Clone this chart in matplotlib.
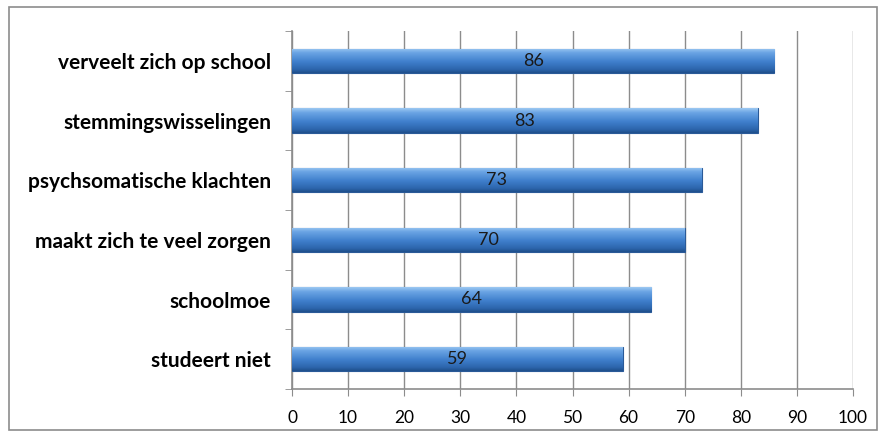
import numpy as np
import matplotlib.pyplot as plt
from matplotlib.patches import Rectangle
from matplotlib.colors import LinearSegmentedColormap

# data
categories = ['verveelt zich op school', 'stemmingswisselingen', 'psychsomatische klachten',
              'maakt zich te veel zorgen', 'schoolmoe', 'studeert niet']
values = [86, 83, 73, 70, 64, 59]
xticks = list(range(0, 101, 10))

plt.rcParams['font.family'] = ['Lato', 'DejaVu Sans']

fig = plt.figure(figsize=(8.8, 4.37), dpi=100)
fig.patches.append(Rectangle((9 / 880, 1 - 430 / 437), 868 / 880, 423 / 437,
                             transform=fig.transFigure, fill=False,
                             edgecolor='#8c8c8c', linewidth=1.2))

ax = fig.add_axes([292 / 880, 48 / 437, 561 / 880, 358 / 437])

y = np.arange(len(categories))
bar_h = 0.41

# vertical gradient for the bevelled bars (light on top, dark at bottom)
cmap = LinearSegmentedColormap.from_list('bevel', [
    (0.0, '#9cc8f2'), (0.18, '#6aa4e4'), (0.55, '#3f7fcc'), (0.85, '#2d66ad'), (1.0, '#1f4f8c')])
grad = np.linspace(0, 1, 64).reshape(-1, 1)

bars = ax.barh(y, values, height=bar_h, color='#3f7fcc', edgecolor='#2a5a98',
               linewidth=0.8, zorder=3)
for b in bars:
    x0, y0 = b.get_x(), b.get_y()
    w, h = b.get_width(), b.get_height()
    im = ax.imshow(grad, cmap=cmap, aspect='auto', extent=(x0, x0 + w, y0, y0 + h),
                   origin='lower', zorder=3.5)
    im.set_clip_path(b)

for yi, v in zip(y, values):
    ax.text(v / 2, yi, str(v), ha='center', va='center', fontsize=13,
            color='#1a1a1a', zorder=5)

ax.set_xlim(0, 100)
ax.set_ylim(len(categories) - 0.5, -0.5)
ax.set_xticks(xticks)
ax.set_xticklabels([str(t) for t in xticks], fontsize=12.5)
ax.set_yticks(y)
ax.set_yticklabels(categories, fontsize=15, fontweight='bold')
ax.set_yticks(np.arange(-0.5, len(categories), 1), minor=True)
ax.tick_params(axis='y', which='major', length=0, pad=15)
ax.tick_params(axis='y', which='minor', length=5, color='#8c8c8c', direction='out')
ax.tick_params(axis='x', length=5, color='#8c8c8c', pad=10)

ax.grid(axis='x', color='#8c8c8c', linewidth=1, zorder=0)
ax.set_axisbelow(True)
for s in ['top', 'right']:
    ax.spines[s].set_visible(False)
for s in ['left', 'bottom']:
    ax.spines[s].set_color('#8c8c8c')
    ax.spines[s].set_linewidth(1.2)

fig.savefig('out.png', dpi=100)
